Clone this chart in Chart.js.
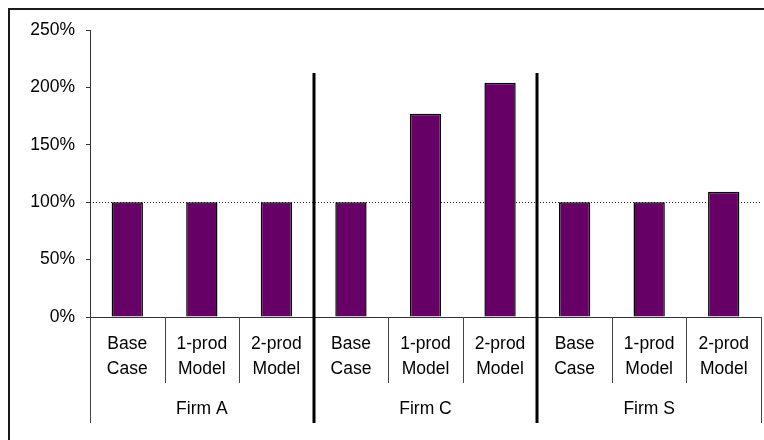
<!DOCTYPE html>
<html>
<head>
<meta charset="utf-8">
<script src="https://cdn.jsdelivr.net/npm/chart.js@4/dist/chart.umd.min.js"></script>
<style>
  html, body { margin: 0; padding: 0; background: #fff; }
  #wrap { width: 764px; height: 440px; position: relative; }
</style>
</head>
<body>
<div id="wrap"><canvas id="c" width="764" height="440"></canvas></div>
<script>
// Firms compared, and the three scenarios shown for each of them
const firms = ['Firm A', 'Firm C', 'Firm S'];
const scenarios = [['Base', 'Case'], ['1-prod', 'Model'], ['2-prod', 'Model']];

// Relative values (%) per firm, in scenario order
const firmA = [100, 100, 100];
const firmC = [100, 177, 204];
const firmS = [100, 100, 109];

// Y axis ticks and the reference level drawn as a dotted line
const yTicks = [0, 50, 100, 150, 200, 250];
const referenceLevel = 100;

const labels = [];
const values = [];
[firmA, firmC, firmS].forEach((series, f) => {
  series.forEach((v, s) => { labels.push(scenarios[s]); values.push(v); });
});

const FONT = { family: '"Liberation Sans", Arial, sans-serif', size: 17.5, lineHeight: 1.43 };

// Frame, reference line, category separators and firm labels
const decorations = {
  id: 'decorations',
  beforeDatasetsDraw(chart) {
    const { ctx, chartArea, scales } = chart;
    const y = scales.y;
    const ry = Math.round(y.getPixelForValue(referenceLevel)) + 0.5;
    ctx.save();
    ctx.strokeStyle = '#222';
    ctx.lineWidth = 1;
    ctx.setLineDash([1, 2]);
    ctx.beginPath();
    ctx.moveTo(chartArea.left, ry);
    ctx.lineTo(chartArea.right, ry);
    ctx.stroke();
    ctx.restore();
  },
  afterDraw(chart) {
    const { ctx, chartArea, scales } = chart;
    const x = scales.x;
    const n = labels.length;
    const per = scenarios.length;
    const bottom = chartArea.bottom;
    const edge = (i) => {
      if (i <= 0) return chartArea.left;
      if (i >= n) return chartArea.right;
      return (x.getPixelForValue(i - 1) + x.getPixelForValue(i)) / 2;
    };
    ctx.save();
    // outer frame
    ctx.strokeStyle = '#1a1a1a';
    ctx.lineWidth = 2;
    ctx.beginPath();
    ctx.moveTo(9, 440);
    ctx.lineTo(9, 9);
    ctx.lineTo(764, 9);
    ctx.stroke();

    // separators under the axis
    for (let i = 0; i <= n; i++) {
      const px = Math.round(edge(i)) + 0.5;
      const groupEdge = i % per === 0;
      const outer = i === 0 || i === n;
      if (groupEdge && !outer) {
        ctx.strokeStyle = '#000';
        ctx.lineWidth = 3;
        ctx.beginPath();
        ctx.moveTo(Math.round(edge(i)), 73);
        ctx.lineTo(Math.round(edge(i)), bottom + 106);
        ctx.stroke();
      } else {
        ctx.strokeStyle = '#444';
        ctx.lineWidth = 1;
        ctx.beginPath();
        ctx.moveTo(px, bottom);
        ctx.lineTo(px, bottom + (outer ? 106 : 66));
        ctx.stroke();
      }
    }

    // firm labels
    ctx.fillStyle = '#000';
    ctx.font = FONT.size + 'px ' + FONT.family;
    ctx.textAlign = 'center';
    ctx.textBaseline = 'middle';
    firms.forEach((name, f) => {
      const cx = (edge(f * per) + edge((f + 1) * per)) / 2;
      ctx.fillText(name, cx, bottom + 92);
    });
    ctx.restore();
  }
};

new Chart(document.getElementById('c'), {
  type: 'bar',
  data: {
    labels: labels,
    datasets: [{
      data: values,
      backgroundColor: '#660066',
      borderColor: '#000',
      borderWidth: 1.5,
      borderSkipped: 'bottom',
      categoryPercentage: 1,
      barPercentage: 0.42
    }]
  },
  options: {
    responsive: false,
    animation: false,
    devicePixelRatio: 1,
    layout: { padding: { top: 30, right: 3, bottom: 0, left: 0 } },
    plugins: { legend: { display: false }, tooltip: { enabled: false } },
    scales: {
      x: {
        offset: true,
        grid: { display: false },
        border: { display: true, color: '#333', width: 1 },
        ticks: {
          color: '#000',
          font: FONT,
          padding: 6.5,
          maxRotation: 0,
          autoSkip: false
        },
        afterFit(scale) { scale.height = 123; }
      },
      y: {
        min: yTicks[0],
        max: yTicks[yTicks.length - 1],
        afterBuildTicks(scale) { scale.ticks = yTicks.map(v => ({ value: v })); },
        grid: {
          drawOnChartArea: false,
          drawTicks: true,
          tickLength: 4,
          tickColor: '#333',
          tickBorderDash: []
        },
        border: { display: true, color: '#333', width: 1 },
        ticks: {
          color: '#000',
          font: FONT,
          padding: 11,
          callback: (v) => v + '%'
        },
        afterFit(scale) { scale.width = 90; }
      }
    }
  },
  plugins: [decorations]
});
</script>
</body>
</html>
